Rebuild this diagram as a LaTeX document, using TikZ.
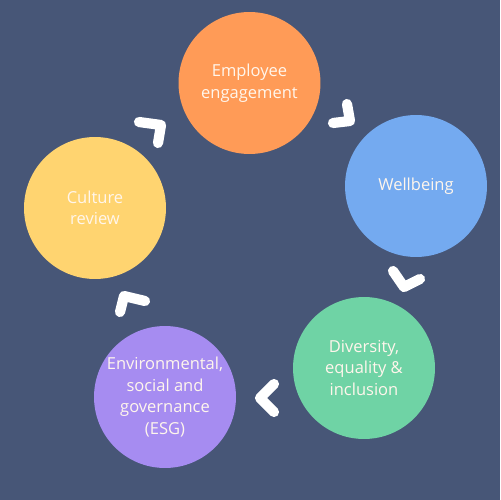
\documentclass[tikz,border=0pt]{standalone}
\usepackage{fontspec}
\setmainfont{Open Sans}
\definecolor{bg}{HTML}{475677}
\definecolor{corange}{HTML}{FF9B57}
\definecolor{cblue}{HTML}{74AAF0}
\definecolor{cgreen}{HTML}{6FD3A5}
\definecolor{cpurple}{HTML}{A68CF1}
\definecolor{cyellow}{HTML}{FFD470}
\definecolor{txt}{HTML}{FFF6EC}
\begin{document}
\begin{tikzpicture}[x=0.02cm,y=-0.02cm,
  bubble/.style={circle,minimum size=2.84cm,inner sep=0pt,text=txt,align=center,
    font=\fontsize{9.4}{12.3}\selectfont},
  chev/.style={draw=white,line width=5.8pt,line cap=round,line join=round}]
\fill[bg] (0,0) rectangle (500,500);
\useasboundingbox (0,0) rectangle (500,500);
\node[bubble,fill=corange] (emp) at (249.5,83) {Employee\\engagement};
\node[bubble,fill=cblue] (well) at (416,186) {Wellbeing};
\node[bubble,fill=cgreen] (div) at (364,368) {Diversity,\\equality \&\\inclusion};
\node[bubble,fill=cpurple] (esg) at (165,397) {Environmental,\\social and\\governance\\(ESG)};
\node[bubble,fill=cyellow] (cul) at (95,208) {Culture\\review};
\coordinate (c1a) at (139,122); \coordinate (c1b) at (161,125); \coordinate (c1c) at (158,143);
\coordinate (c2a) at (347,104); \coordinate (c2b) at (350,121); \coordinate (c2c) at (333,123);
\coordinate (c3a) at (393,271); \coordinate (c3b) at (404,287); \coordinate (c3c) at (420,279);
\coordinate (c4a) at (274,384); \coordinate (c4b) at (260,398); \coordinate (c4c) at (274,412);
\coordinate (c5a) at (145,301); \coordinate (c5b) at (124,296); \coordinate (c5c) at (120,312);
\draw[chev] (c1a) -- (c1b) -- (c1c);
\draw[chev] (c2a) -- (c2b) -- (c2c);
\draw[chev] (c3a) -- (c3b) -- (c3c);
\draw[chev] (c4a) -- (c4b) -- (c4c);
\draw[chev] (c5a) -- (c5b) -- (c5c);
\end{tikzpicture}
\end{document}
